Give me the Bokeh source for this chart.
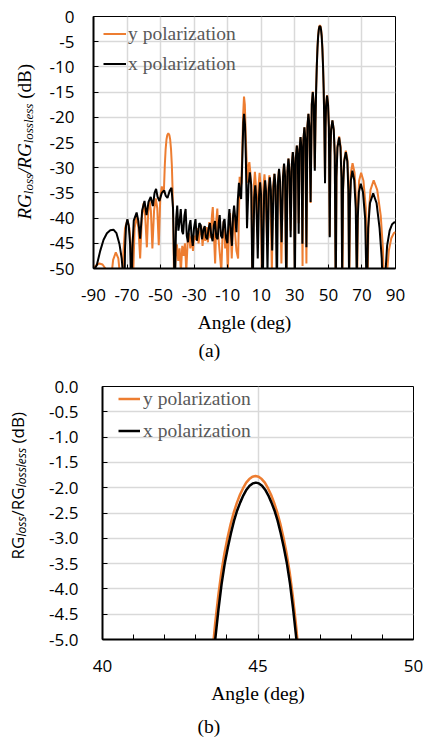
from bokeh.plotting import figure
from bokeh.models import Range1d, FixedTicker, Legend, LegendItem, Title, Div
from bokeh.layouts import column, row
from bokeh.embed import file_html
from bokeh.resources import INLINE

# ---------------- data ----------------
# panel (a): x polarization (black)
a_x_pts = [
    (-90.0, -50.5), (-88.0, -49.3), (-86.0, -46.5), (-84.0, -44.3), (-82.0, -43.0), (-80.0, -42.4),
    (-78.1, -42.3), (-76.3, -43.0), (-74.5, -45.2), (-73.2, -48.0), (-72.2, -52.0), (-71.6, -56.0),
    (-71.2, -46.0), (-70.6, -41.5), (-69.8, -40.2), (-69.0, -41.5), (-68.2, -45.0), (-67.4, -56.0),
    (-66.8, -46.0), (-66.0, -40.5), (-64.3, -38.9), (-63.3, -40.5), (-62.2, -44.1),
    (-61.0, -38.5), (-59.6, -36.6), (-58.4, -39.4), (-57.2, -36.8), (-55.9, -35.8), (-54.6, -37.6),
    (-53.6, -35.0), (-52.7, -34.2), (-51.8, -35.8), (-50.7, -36.6), (-49.3, -35.0), (-47.9, -34.5),
    (-46.9, -35.6), (-45.9, -36.0), (-44.6, -34.6), (-43.5, -34.0), (-42.6, -38.0), (-41.6, -55.0),
    (-40.7, -40.0), (-40.1, -37.5), (-39.4, -42.5), (-38.6, -40.5), (-38.0, -38.2), (-37.2, -42.6),
    (-36.6, -43.2), (-35.8, -39.5), (-35.1, -38.2), (-34.4, -43.5), (-33.7, -44.8), (-32.9, -41.5),
    (-32.2, -40.4), (-31.5, -43.8), (-30.8, -45.5), (-30.1, -42.0), (-29.2, -40.2), (-28.4, -44.5),
    (-27.7, -43.0), (-26.9, -41.0), (-26.1, -41.4), (-25.3, -44.2), (-24.5, -42.3), (-23.7, -41.6),
    (-23.0, -43.8), (-22.2, -44.2), (-21.4, -42.0), (-20.6, -41.0), (-19.8, -43.5), (-19.0, -44.6),
    (-18.3, -41.5), (-17.6, -40.6), (-16.8, -43.8), (-16.0, -44.2), (-15.3, -40.8), (-14.8, -39.4),
    (-14.0, -43.5), (-13.2, -44.0), (-12.5, -40.8), (-11.9, -40.2), (-11.0, -44.0), (-10.2, -45.0),
    (-9.5, -40.5), (-9.0, -38.2), (-8.2, -42.5), (-7.5, -45.5), (-6.8, -39.5), (-6.2, -37.5),
    (-5.4, -40.5), (-4.8, -42.8), (-4.0, -36.5), (-3.3, -33.0), (-2.6, -35.5), (-2.0, -36.2),
    (-1.2, -27.0), (-0.7, -21.0), (-0.25, -19.3),
    (0.3, -21.5), (0.8, -28.0), (1.5, -42.0), (2.4, -33.4), (3.2, -30.9), (4.0, -33.4), (4.8, -56.0),
    (5.8, -36.0), (6.4, -33.5), (7.0, -36.0), (7.9, -48.0), (8.7, -35.4), (9.3, -32.9), (9.9, -35.4),
    (10.8, -56.0), (11.7, -35.0), (12.3, -32.5), (12.9, -35.0), (13.7, -50.5), (14.5, -34.4),
    (15.1, -31.9), (15.7, -34.4), (16.5, -46.4), (17.3, -33.7), (17.9, -31.2), (18.5, -33.7),
    (19.3, -55.0), (20.0, -32.7), (20.6, -30.2), (21.2, -32.7), (22.1, -44.8), (23.0, -31.7),
    (23.6, -29.2), (24.2, -31.7), (24.9, -55.0), (25.6, -30.7), (26.2, -28.2), (26.8, -30.7),
    (27.5, -43.8), (28.2, -29.4), (28.8, -26.9), (29.4, -29.4), (30.0, -55.0), (30.6, -28.1),
    (31.2, -25.6), (31.8, -28.1), (32.3, -43.1), (32.8, -26.4), (33.4, -23.9), (34.0, -26.4),
    (34.5, -45.1), (35.1, -24.5), (35.7, -22.0), (36.3, -24.5), (36.9, -45.8), (37.5, -21.8),
    (38.1, -19.3), (38.7, -21.8), (39.4, -36.8), (40.1, -17.5), (40.7, -15.0), (41.3, -17.5),
    (41.9, -30.6), (42.3, -21.0), (42.7, -14.5), (43.1, -9.8), (43.5, -6.3), (43.9, -3.9),
    (44.3, -2.6), (44.6, -2.05), (44.93, -1.9), (45.3, -2.05), (45.6, -2.6), (46.0, -3.9),
    (46.4, -6.3), (46.8, -9.8), (47.2, -14.5), (47.6, -22.0), (48.0, -33.1),
    (48.3, -22.0), (48.6, -17.8), (49.2, -15.7), (49.8, -17.5), (50.3, -22.0), (50.8, -43.8),
    (51.2, -27.0), (51.6, -22.5), (52.4, -20.6), (53.2, -22.5), (53.8, -27.5), (54.4, -56.0),
    (54.8, -32.0), (55.4, -26.0), (56.4, -24.0), (57.2, -26.0), (57.8, -32.0), (58.2, -52.0),
    (58.7, -34.5), (59.4, -28.8), (60.4, -26.9), (61.3, -28.8), (61.9, -34.5), (62.3, -52.0),
    (62.8, -38.0), (63.4, -32.5), (64.3, -30.6), (65.4, -32.5), (66.3, -38.0), (66.9, -52.0),
    (67.5, -40.0), (68.2, -34.8), (69.3, -33.2), (70.6, -34.8), (71.9, -40.0), (72.9, -56.0),
    (73.7, -42.0), (74.8, -37.0), (76.7, -35.1), (78.7, -37.0), (80.5, -42.0), (81.8, -48.0),
    (82.9, -60.0), (84.0, -51.0), (85.0, -45.5), (86.5, -42.5), (88.0, -41.2), (89.3, -40.8),
    (90.0, -40.9),
]

# panel (a): y polarization (orange)
a_y_pts = [
    (-90.0, -50.0), (-88.5, -49.4), (-86.5, -49.0), (-84.6, -49.2), (-82.5, -50.2), (-81.5, -55.0),
    (-79.5, -52.0), (-78.3, -48.3), (-76.7, -46.8), (-75.2, -48.0), (-74.0, -52.0), (-73.2, -56.0),
    (-72.2, -47.0), (-71.2, -42.0), (-69.8, -40.4), (-68.6, -42.0), (-67.6, -46.0), (-66.8, -56.0),
    (-65.5, -42.0), (-64.3, -39.6), (-63.2, -42.0), (-62.2, -48.0), (-61.2, -40.0), (-60.2, -37.1),
    (-59.2, -39.5), (-58.2, -45.8), (-57.4, -39.0), (-56.6, -36.5), (-55.8, -38.5), (-54.9, -46.0),
    (-53.9, -38.5), (-52.9, -36.1), (-52.0, -38.0), (-51.1, -45.4), (-50.2, -36.0), (-49.3, -33.7),
    (-48.6, -35.0), (-48.0, -34.2), (-47.5, -29.5), (-47.0, -26.3), (-46.5, -24.4), (-46.0, -23.5),
    (-45.4, -23.2), (-44.8, -23.5), (-44.3, -24.4), (-43.8, -26.3), (-43.3, -29.5), (-42.9, -34.0),
    (-42.4, -42.0), (-41.9, -55.0),
    (-41.0, -47.5), (-40.3, -45.2), (-39.5, -48.5), (-38.7, -46.0), (-37.9, -50.5), (-37.1, -45.5),
    (-36.3, -47.5), (-35.5, -45.0), (-34.7, -50.5), (-33.9, -44.8), (-33.1, -43.0), (-32.3, -46.0),
    (-31.5, -43.5), (-30.7, -46.5), (-29.9, -43.5), (-29.0, -44.3), (-28.2, -42.0), (-27.4, -45.0),
    (-26.6, -43.0), (-25.8, -41.5), (-25.0, -45.5), (-24.2, -42.5), (-23.4, -44.5), (-22.6, -41.8),
    (-21.8, -44.8), (-21.0, -40.8), (-20.2, -44.0), (-19.4, -39.5), (-18.9, -37.8), (-18.2, -43.5),
    (-17.5, -49.0), (-16.8, -40.5), (-16.2, -38.1), (-15.5, -44.0), (-14.6, -47.5), (-13.8, -50.5),
    (-13.0, -42.5), (-12.3, -40.5), (-11.5, -46.0), (-10.7, -44.0), (-9.9, -50.5), (-9.2, -41.0),
    (-8.6, -39.0), (-7.6, -48.0), (-6.9, -42.0), (-6.3, -38.5), (-5.6, -43.0), (-4.8, -46.5),
    (-3.8, -48.0), (-2.9, -31.8), (-2.4, -34.0), (-1.8, -33.0), (-1.3, -26.0), (-0.8, -19.5),
    (-0.3, -15.9),
    (0.2, -17.5), (0.7, -23.0), (1.2, -28.0), (1.7, -33.0), (2.3, -29.8), (2.9, -28.9), (3.5, -31.0),
    (4.2, -36.0), (4.8, -56.0), (5.6, -33.5), (6.2, -30.8), (6.8, -33.5), (7.6, -42.0), (8.4, -33.5),
    (9.0, -31.0), (9.6, -33.5), (10.5, -56.0), (11.3, -34.0), (11.9, -31.3), (12.5, -34.0),
    (13.4, -44.0), (14.2, -34.0), (14.8, -31.5), (15.4, -34.0), (16.3, -50.5), (17.1, -33.6),
    (17.7, -31.2), (18.3, -33.6), (19.2, -42.0), (19.9, -33.0), (20.5, -30.5), (21.1, -33.0),
    (22.0, -49.0), (22.9, -31.8), (23.5, -29.3), (24.1, -31.8), (24.9, -56.0), (25.6, -30.7),
    (26.2, -28.2), (26.8, -30.7), (27.5, -42.5), (28.2, -29.4), (28.8, -26.9), (29.4, -29.4),
    (30.0, -50.5), (30.6, -28.1), (31.2, -25.6), (31.8, -28.1), (32.3, -41.0), (32.8, -26.4),
    (33.4, -23.9), (34.0, -26.4), (34.6, -49.5), (35.1, -24.5), (35.7, -22.0), (36.3, -24.5),
    (36.9, -49.0), (37.5, -21.8), (38.1, -19.3), (38.7, -21.8), (39.4, -37.0), (40.1, -17.5),
    (40.7, -14.9), (41.3, -17.5), (41.9, -30.0), (42.3, -21.0), (42.7, -14.3), (43.1, -9.6),
    (43.5, -6.0), (43.9, -3.7), (44.3, -2.45), (44.6, -1.9), (44.92, -1.77), (45.3, -1.9),
    (45.6, -2.45), (46.0, -3.7), (46.4, -6.0), (46.8, -9.6), (47.2, -14.3), (47.6, -21.5),
    (48.0, -33.0),
    (48.3, -22.0), (48.6, -17.7), (49.2, -15.6), (49.8, -17.4), (50.3, -22.0), (50.8, -43.5),
    (51.2, -27.0), (51.6, -22.5), (52.4, -20.6), (53.2, -22.5), (53.8, -27.5), (54.4, -56.0),
    (54.8, -31.8), (55.4, -25.8), (56.4, -23.8), (57.3, -25.8), (57.9, -31.8), (58.3, -56.0),
    (58.8, -34.0), (59.4, -28.5), (60.4, -26.6), (61.4, -28.5), (62.0, -34.0), (62.4, -56.0),
    (62.9, -36.5), (63.4, -31.0), (64.4, -29.1), (65.6, -31.0), (66.5, -36.5), (67.1, -56.0),
    (67.6, -38.0), (68.3, -32.6), (69.5, -31.0), (70.9, -32.6), (72.3, -38.0), (73.2, -56.0),
    (74.0, -39.5), (75.1, -34.4), (77.0, -32.5), (79.1, -34.4), (81.2, -39.5), (82.5, -46.0),
    (83.6, -60.0), (84.7, -52.0), (86.0, -46.5), (87.5, -44.0), (89.0, -43.0), (90.0, -42.8),
]

# panel (b): zoom on the main lobe
b_x_ang = [43.53, 43.63, 43.73, 43.83, 43.93, 44.03, 44.13, 44.23, 44.33, 44.43, 44.53, 44.63, 44.73,
           44.83, 44.93, 45.03, 45.13, 45.23, 45.33, 45.43, 45.53, 45.63, 45.73, 45.83, 45.93, 46.03,
           46.13, 46.23, 46.33]
b_x_db = [-5.6, -4.97, -4.4, -3.9, -3.5, -3.18, -2.9, -2.65, -2.45, -2.29, -2.15, -2.04, -1.96,
          -1.915, -1.9, -1.915, -1.96, -2.04, -2.15, -2.29, -2.45, -2.65, -2.9, -3.18, -3.5, -3.9,
          -4.4, -4.97, -5.6]
b_y_ang = [43.52, 43.62, 43.72, 43.82, 43.92, 44.02, 44.12, 44.22, 44.32, 44.42, 44.52, 44.62, 44.72,
           44.82, 44.92, 45.02, 45.12, 45.22, 45.32, 45.42, 45.52, 45.62, 45.72, 45.82, 45.92, 46.02,
           46.12, 46.22, 46.32]
b_y_db = [-5.35, -4.7, -4.15, -3.68, -3.3, -2.99, -2.72, -2.49, -2.3, -2.14, -2.01, -1.9, -1.83,
          -1.785, -1.77, -1.785, -1.83, -1.9, -2.01, -2.14, -2.3, -2.49, -2.72, -2.99, -3.3, -3.68,
          -4.15, -4.7, -5.35]

a_xticks = [-90, -70, -50, -30, -10, 10, 30, 50, 70, 90]
a_xtick_labels = ["-90", "-70", "-50", "-30", "-10", "10", "30", "50", "70", "90"]
a_yticks = [0, -5, -10, -15, -20, -25, -30, -35, -40, -45, -50]
a_ytick_labels = ["0", "-5", "-10", "-15", "-20", "-25", "-30", "-35", "-40", "-45", "-50"]
b_xticks = [40, 45, 50]
b_xtick_labels = ["40", "45", "50"]
b_xminor = [41, 42, 43, 44, 46, 47, 48, 49]
b_yticks = [0.0, -0.5, -1.0, -1.5, -2.0, -2.5, -3.0, -3.5, -4.0, -4.5, -5.0]
b_ytick_labels = ["0.0", "-0.5", "-1.0", "-1.5", "-2.0", "-2.5", "-3.0", "-3.5", "-4.0", "-4.5", "-5.0"]
series_names = ["y polarization", "x polarization"]
ylabel_main = "RG"
ylabel_sub1 = "loss"
ylabel_sub2 = "lossless"
ylabel_unit = "(dB)"

a_x_ang = [p[0] for p in a_x_pts]
a_x_db = [p[1] for p in a_x_pts]
a_y_ang = [p[0] for p in a_y_pts]
a_y_db = [p[1] for p in a_y_pts]

# ---------------- styling ----------------
SERIF = "Liberation Serif"
SANS = "Open Sans"
ORANGE = "#ED7D31"
GRID = "#d9d9d9"
LABEL_W = 40


def base_style(p, xticker, xticks, xlabels, yticks, ylabels, ystandoff):
    p.outline_line_color = "black"
    p.outline_line_width = 1
    p.xaxis.ticker = xticker
    p.xaxis.major_label_overrides = {t: l for t, l in zip(xticks, xlabels)}
    p.yaxis.ticker = FixedTicker(ticks=yticks)
    p.yaxis.major_label_overrides = {t: l for t, l in zip(yticks, ylabels)}
    for ax in (p.xaxis[0], p.yaxis[0]):
        ax.axis_line_color = "black"
        ax.axis_line_width = 2
        ax.major_tick_in = 5
        ax.major_tick_out = 0
        ax.major_tick_line_color = "black"
        ax.major_tick_line_width = 1
        ax.major_label_text_font = SANS
        ax.major_label_text_font_size = "17px"
        ax.major_label_text_color = "black"
    p.yaxis.major_label_standoff = ystandoff
    p.yaxis.minor_tick_line_color = None
    p.yaxis.axis_label = None
    p.xaxis.axis_label = "Angle (deg)"
    p.xaxis.axis_label_text_font = SERIF
    p.xaxis.axis_label_text_font_style = "normal"
    p.xaxis.axis_label_text_font_size = "19.5px"
    p.xaxis.axis_label_text_color = "black"
    p.xgrid.grid_line_color = GRID
    p.ygrid.grid_line_color = GRID
    p.xgrid.grid_line_width = 1.5
    p.ygrid.grid_line_width = 1.5


def add_legend(p, ry, rx, loc, gw, standoff, spacing):
    leg = Legend(items=[LegendItem(label=series_names[0], renderers=[ry]),
                        LegendItem(label=series_names[1], renderers=[rx])],
                 location=loc)
    leg.background_fill_alpha = 0
    leg.border_line_alpha = 0
    leg.padding = 0
    leg.margin = 0
    leg.spacing = spacing
    leg.glyph_width = gw
    leg.glyph_height = 23
    leg.label_height = 23
    leg.label_standoff = standoff
    leg.label_text_font = SERIF
    leg.label_text_font_size = "19.5px"
    leg.label_text_color = "#595959"
    p.add_layout(leg)


def ylabel_div(height, inner_html, font, size, left, top):
    style = ("writing-mode:vertical-rl;transform:rotate(180deg);white-space:nowrap;"
             f"font-family:'{font}';font-size:{size}px;line-height:22px;color:black;"
             f"position:absolute;left:{left}px;top:{top}px;")
    return Div(text=f'<div style="{style}">{inner_html}</div>', width=LABEL_W, height=height,
               margin=0, styles={"position": "relative", "overflow": "visible"})


# ---------------- panel (a) ----------------
pa = figure(width=425 - LABEL_W, height=370, x_range=Range1d(-90, 90), y_range=Range1d(-50, 0),
            output_backend="svg", toolbar_location=None,
            min_border_left=93 - LABEL_W, min_border_right=30, min_border_top=16, min_border_bottom=102)
base_style(pa, FixedTicker(ticks=a_xticks), a_xticks, a_xtick_labels, a_yticks, a_ytick_labels, 19)
pa.xaxis.major_tick_in = 4
pa.xaxis.minor_tick_line_color = None
pa.xaxis.major_label_standoff = 20
pa.xaxis.axis_label_standoff = 8

ry_a = pa.line(a_y_ang, a_y_db, line_color=ORANGE, line_width=2)
rx_a = pa.line(a_x_ang, a_x_db, line_color="black", line_width=2)
add_legend(pa, ry_a, rx_a, (10, 193), 23, 2, 7)
pa.add_layout(Title(text="(a)", align="left", offset=105, standoff=5, text_font=SERIF,
                    text_font_size="19.5px", text_font_style="normal", text_color="black"), "below")

sub_a = "font-size:13px;vertical-align:-4px;"
html_a = (f'<i>{ylabel_main}<span style="{sub_a}">{ylabel_sub1}</span>/{ylabel_main}'
          f'<span style="{sub_a}">{ylabel_sub2}</span></i>&nbsp;{ylabel_unit}')
la = ylabel_div(370, html_a, SERIF, 19, 14, 64)

# ---------------- panel (b) ----------------
pb = figure(width=425 - LABEL_W, height=373, x_range=Range1d(40, 50), y_range=Range1d(-5, 0),
            output_backend="svg", toolbar_location=None,
            min_border_left=102 - LABEL_W, min_border_right=12, min_border_top=16, min_border_bottom=99)
base_style(pb, FixedTicker(ticks=b_xticks, minor_ticks=b_xminor), b_xticks, b_xtick_labels,
           b_yticks, b_ytick_labels, 24)
pb.xaxis.major_tick_in = 5
pb.xaxis.minor_tick_in = 5
pb.xaxis.minor_tick_out = 0
pb.xaxis.minor_tick_line_color = "black"
pb.xaxis.major_label_standoff = 20
pb.xaxis.axis_label_standoff = 8

ry_b = pb.line(b_y_ang, b_y_db, line_color=ORANGE, line_width=2.5)
rx_b = pb.line(b_x_ang, b_x_db, line_color="black", line_width=2.5)
add_legend(pb, ry_b, rx_b, (16, 197), 22, 3, 9)
pb.add_layout(Title(text="(b)", align="left", offset=95, standoff=14, text_font=SERIF,
                    text_font_size="19.5px", text_font_style="normal", text_color="black"), "below")

sub_b = "font-size:12px;font-style:italic;vertical-align:-4px;"
html_b = (f'{ylabel_main}<span style="{sub_b}">{ylabel_sub1}</span>/{ylabel_main}'
          f'<span style="{sub_b}">{ylabel_sub2}</span>&nbsp;{ylabel_unit}')
lb = ylabel_div(373, html_b, SANS, 17, 7, 42)

layout = column(row(la, pa, spacing=0), row(lb, pb, spacing=0), spacing=0)
open("out.html", "w").write(file_html(layout, INLINE))
